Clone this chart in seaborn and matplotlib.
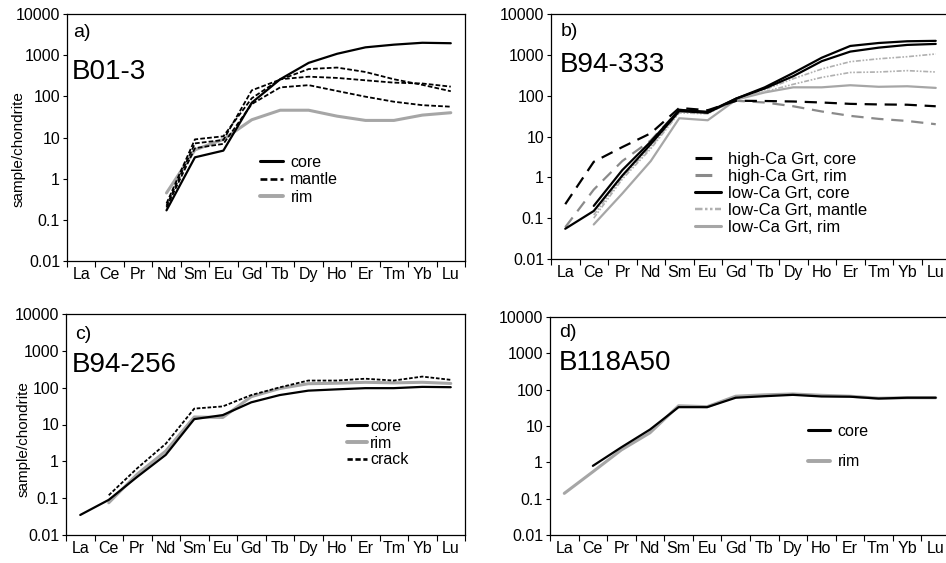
import numpy as np
import seaborn as sns
import matplotlib.pyplot as plt
from matplotlib.lines import Line2D
from matplotlib.ticker import NullLocator

sns.set_theme(style="white")
plt.rcParams['font.family'] = ['Liberation Sans', 'DejaVu Sans']
plt.rcParams['text.color'] = 'black'
plt.rcParams['axes.labelcolor'] = 'black'
plt.rcParams['xtick.color'] = 'black'
plt.rcParams['ytick.color'] = 'black'

# REE order and y tick values
elements = ["La", "Ce", "Pr", "Nd", "Sm", "Eu", "Gd", "Tb", "Dy", "Ho", "Er", "Tm", "Yb", "Lu"]
ytick_vals = [0.01, 0.1, 1, 10, 100, 1000, 10000]
ytick_text = ["0.01", "0.1", "1", "10", "100", "1000", "10000"]
N = np.nan

# a) B01-3
a_core = [N, N, N, 0.17, 3.3, 4.8, 70, 260, 650, 1080, 1550, 1800, 2000, 1950]
a_mantle1 = [N, N, N, 0.22, 7.2, 8.7, 140, 255, 460, 500, 390, 260, 190, 133]
a_mantle2 = [N, N, N, 0.25, 9.0, 10.7, 90, 260, 300, 280, 245, 215, 205, 172]
a_mantle3 = [N, N, N, 0.20, 5.5, 7.0, 65, 165, 187, 135, 98, 74, 61, 56]
a_rim = [N, N, N, 0.45, 5.0, 9.0, 27, 46, 46, 33, 26, 26, 35, 40]

# b) B94-333
b_hca_core = [0.22, 2.4, 5.5, 12, 50, 44, 75, 74, 72, 68, 63, 61, 60, 55]
b_hca_rim = [0.06, 0.5, 2.5, 8, 45, 40, 75, 68, 55, 41, 32, 27, 24, 20]
b_lca_core1 = [0.055, 0.15, 1.1, 6.5, 42, 38, 85, 160, 360, 850, 1650, 1950, 2150, 2200]
b_lca_core2 = [N, 0.2, 1.5, 7.5, 45, 40, 85, 150, 300, 700, 1200, 1500, 1750, 1850]
b_lca_mantle1 = [N, 0.12, 1.0, 5.5, 40, 38, 85, 140, 260, 450, 680, 800, 900, 1050]
b_lca_mantle2 = [N, 0.10, 0.9, 5.0, 38, 36, 85, 125, 190, 280, 370, 380, 410, 380]
b_lca_rim = [N, 0.07, 0.4, 2.5, 28, 25, 80, 120, 160, 160, 180, 165, 170, 155]

# c) B94-256
c_core = [0.035, 0.09, 0.38, 1.5, 14, 18, 40, 63, 83, 90, 97, 97, 105, 103]
c_rim = [N, 0.075, 0.45, 1.9, 16, 15.5, 57, 95, 128, 132, 140, 135, 140, 130]
c_crack = [N, 0.12, 0.65, 3.0, 27, 31, 63, 102, 156, 156, 175, 156, 200, 163]

# d) B118A50
d_core = [N, 0.8, 2.6, 8, 33, 33, 60, 66, 72, 65, 64, 57, 60, 60]
d_rim = [0.14, 0.55, 2.2, 6.5, 36, 34, 66, 72, 76, 70, 66, 58, 60, 60]

GRAY = "#a6a6a6"
MGRAY = "#8a8a8a"
LGRAY = "#b0b0b0"
SOLID = dict(color="black", lw=1.6, ls="-")
RIM = dict(color=GRAY, lw=2.2, ls="-")
MANTLE = dict(color="black", lw=1.3, ls=(0, (2.6, 1.2)))
LONGDASH = dict(color="black", lw=1.6, ls=(0, (5.5, 3.5)))
LONGDASH_G = dict(color=MGRAY, lw=1.6, ls=(0, (5.5, 3.5)))
DASHDOT_G = dict(color=LGRAY, lw=1.2, ls=(0, (3, 1, 1, 1, 1, 1)))
THINRIM = dict(color=GRAY, lw=1.6, ls="-")
CRACK = dict(color="black", lw=1.3, ls=(0, (2, 1)))

W, H = 946, 563
fig = plt.figure(figsize=(W / 100, H / 100), dpi=100)


def make_axes(l, r, t, b):
    return fig.add_axes([l / W, 1 - b / H, (r - l) / W, (b - t) / H])


def draw(ax, vals, st):
    x = np.arange(len(elements))
    y = np.array(vals, dtype=float)
    m = ~np.isnan(y)
    sns.lineplot(x=x[m], y=y[m], ax=ax, color=st["color"], lw=st["lw"],
                 linestyle=st["ls"], sort=False)


def style_axes(ax, tag, name, tag_pos, name_pos):
    ax.set_yscale("log")
    ax.set_ylim(0.01, 10000)
    ax.set_xlim(-0.5, 13.5)
    ax.set_yticks(ytick_vals)
    ax.set_yticklabels(ytick_text)
    ax.yaxis.set_minor_locator(NullLocator())
    ax.set_xticks(np.arange(-0.5, 14, 1.0))
    ax.set_xticklabels([""] * 15)
    ax.set_xticks(np.arange(14), minor=True)
    ax.set_xticklabels(elements, minor=True)
    ax.tick_params(axis="x", which="major", direction="out", length=4, width=0.8,
                   bottom=True, color="black")
    ax.tick_params(axis="x", which="minor", length=0, pad=4, labelsize=11.5)
    ax.tick_params(axis="y", which="major", direction="out", length=3, width=0.8,
                   left=True, pad=2, labelsize=11.5, color="black")
    for sp in ax.spines.values():
        sp.set_color("black")
        sp.set_linewidth(0.9)
    ax.grid(False)
    ax.text(tag_pos[0], tag_pos[1], tag, transform=ax.transAxes, fontsize=14,
            ha="left", va="center")
    ax.text(name_pos[0], name_pos[1], name, transform=ax.transAxes, fontsize=20,
            ha="left", va="center")


def add_legend(ax, entries, x, y, fs, hl, tp, spacing):
    handles = [Line2D([], [], color=st["color"], lw=st["lw"] + 0.6, ls=st["ls"])
               for st, _ in entries]
    labels = [lab for _, lab in entries]
    ax.legend(handles, labels, loc="center left", bbox_to_anchor=(x, y),
              frameon=False, fontsize=fs, handlelength=hl, handletextpad=tp,
              labelspacing=spacing, borderpad=0, borderaxespad=0)


# panel a
ax_a = make_axes(67, 465, 14, 261)
draw(ax_a, a_rim, RIM)
draw(ax_a, a_mantle3, MANTLE)
draw(ax_a, a_mantle2, MANTLE)
draw(ax_a, a_mantle1, MANTLE)
draw(ax_a, a_core, SOLID)
style_axes(ax_a, "a)", "B01-3", (0.015, 0.927), (0.012, 0.765))
ax_a.set_ylabel("sample/chondrite", fontsize=11)
ax_a.yaxis.set_label_coords(-0.103, 0.453)
add_legend(ax_a, [(SOLID, "core"), (MANTLE, "mantle"), (RIM, "rim")],
           0.485, 0.328, 11.5, 1.45, 0.45, 0.15)

# panel b
ax_b = make_axes(551, 950, 14, 259)
draw(ax_b, b_lca_rim, THINRIM)
draw(ax_b, b_lca_mantle2, DASHDOT_G)
draw(ax_b, b_lca_mantle1, DASHDOT_G)
draw(ax_b, b_hca_rim, LONGDASH_G)
draw(ax_b, b_hca_core, LONGDASH)
draw(ax_b, b_lca_core2, SOLID)
draw(ax_b, b_lca_core1, SOLID)
style_axes(ax_b, "b)", "B94-333", (0.025, 0.927), (0.022, 0.792))
add_legend(ax_b, [(LONGDASH, "high-Ca Grt, core"), (LONGDASH_G, "high-Ca Grt, rim"),
                  (SOLID, "low-Ca Grt, core"), (DASHDOT_G, "low-Ca Grt, mantle"),
                  (THINRIM, "low-Ca Grt, rim")],
           0.361, 0.269, 12, 1.55, 0.4, 0.12)

# panel c
ax_c = make_axes(66, 465, 314, 535)
draw(ax_c, c_rim, RIM)
draw(ax_c, c_core, SOLID)
draw(ax_c, c_crack, CRACK)
style_axes(ax_c, "c)", "B94-256", (0.023, 0.905), (0.015, 0.77))
ax_c.set_ylabel("sample/chondrite", fontsize=11)
ax_c.yaxis.set_label_coords(-0.088, 0.434)
add_legend(ax_c, [(SOLID, "core"), (RIM, "rim"), (CRACK, "crack")],
           0.704, 0.416, 11.5, 1.25, 0.2, 0.1)

# panel d
ax_d = make_axes(550, 950, 317, 535)
draw(ax_d, d_rim, RIM)
draw(ax_d, d_core, SOLID)
style_axes(ax_d, "d)", "B118A50", (0.024, 0.927), (0.022, 0.789))
add_legend(ax_d, [(SOLID, "core"), (RIM, "rim")],
           0.645, 0.406, 11.5, 1.4, 0.45, 1.0)

fig.savefig("out.png", dpi=100)
